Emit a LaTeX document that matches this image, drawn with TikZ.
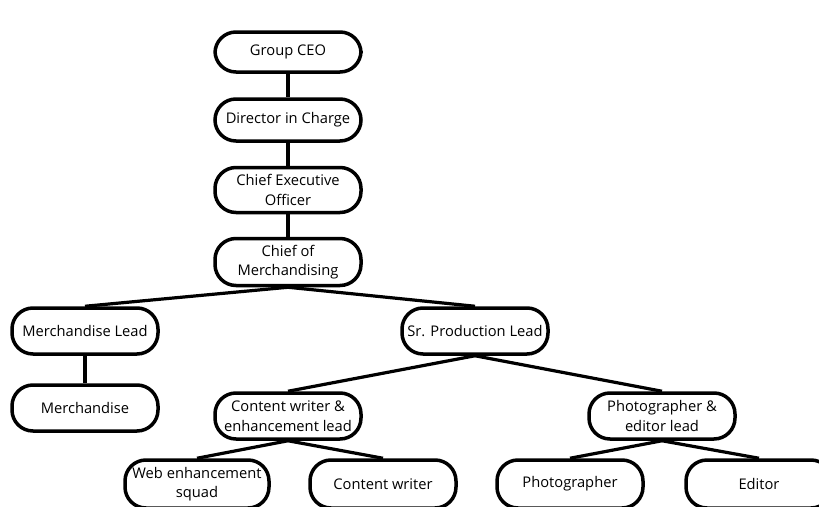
\documentclass[tikz,border=0pt]{standalone}
\usepackage{fontspec}
\setmainfont{Open Sans}
\begin{document}
\begin{tikzpicture}[x=1pt,y=-1pt,
  box/.style={draw=black, line width=3.5pt, rounded corners=21pt, fill=white,
    minimum width=146pt, minimum height=46pt, align=center, inner sep=1pt,
    font=\fontsize{14.7}{19.5}\selectfont},
  conn/.style={line width=3.2pt, black}]
\useasboundingbox[fill=white] (0,0) rectangle (819,506);
\node[box, minimum height=40pt] (gceo) at (288,52) {Group CEO};
\node[box, minimum height=42pt] (dic) at (288,120) {Director in Charge};
\node[box, minimum height=45pt] (ceo) at (288,190) {Chief Executive\\Officer};
\node[box, minimum height=47pt] (com) at (288,262) {Chief of\\Merchandising};
\node[box] (ml) at (85,331) {Merchandise Lead};
\node[box] (m) at (85,408) {Merchandise};
\node[box] (spl) at (475,331) {Sr. Production Lead};
\node[box] (cwl) at (288,416) {Content writer \&\\enhancement lead};
\node[box] (pel) at (662,416) {Photographer \&\\editor lead};
\node[box, minimum width=144pt, minimum height=48pt] (web) at (197,484) {Web enhancement\\squad};
\node[box, minimum height=48pt] (cw) at (383,484) {Content writer};
\node[box, minimum height=48pt] (ph) at (570,484) {Photographer};
\node[box, minimum height=48pt] (ed) at (759,484) {Editor};
\draw[conn] (gceo.south) -- (dic.north);
\draw[conn] (dic.south) -- (ceo.north);
\draw[conn] (ceo.south) -- (com.north);
\draw[conn] (com.south) -- (ml.north);
\draw[conn] (com.south) -- (spl.north);
\draw[conn] (ml.south) -- (m.north);
\draw[conn] (spl.south) -- (cwl.north);
\draw[conn] (spl.south) -- (pel.north);
\draw[conn] (cwl.south) -- (web.north);
\draw[conn] (cwl.south) -- (cw.north);
\draw[conn] (pel.south) -- (ph.north);
\draw[conn] (pel.south) -- (ed.north);
\end{tikzpicture}
\end{document}
